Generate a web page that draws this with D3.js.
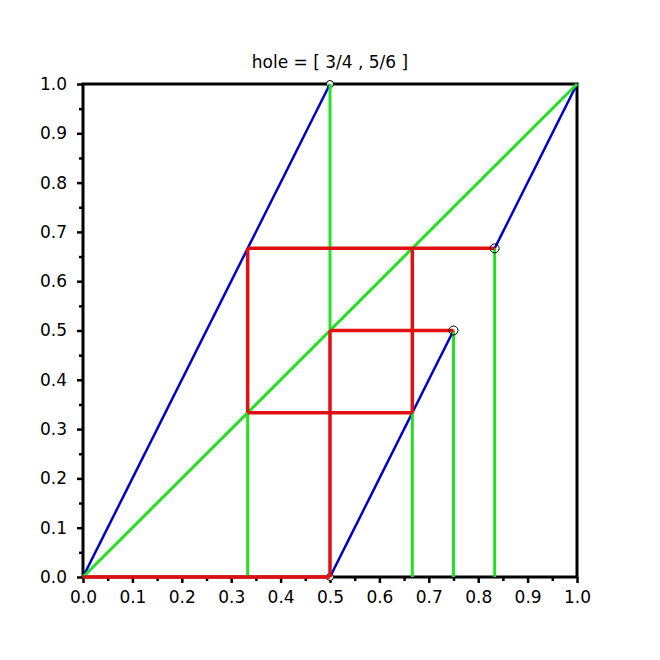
<!DOCTYPE html>
<html>
<head>
<meta charset="utf-8">
<script src="https://cdn.jsdelivr.net/npm/d3@7"></script>
<style>
  body { margin: 0; background: #fff; }
  text { font-family: "DejaVu Sans", sans-serif; }
</style>
</head>
<body>
<div class="container"></div>
<script>
let title = 'hole = [ 3/4 , 5/6 ]';

// the map (blue)
let mapSegments = [
  [[0, 0], [0.5, 1]],
  [[0.5, 0], [0.75, 0.5]],
  [[5 / 6, 2 / 3], [1, 1]],
];

// diagonal and vertical drops (green)
let greenSegments = [
  [[0, 0], [1, 1]],
  [[0.5, 0.5], [0.5, 1]],
  [[1 / 3, 0], [1 / 3, 1 / 3]],
  [[2 / 3, 0], [2 / 3, 1 / 3]],
  [[0.75, 0], [0.75, 0.5]],
  [[5 / 6, 0], [5 / 6, 2 / 3]],
];

// cobweb orbits (red)
let redSegments = [
  [[0, 0], [0.5, 0]],
  [[0.5, 0], [0.5, 0.5]],
  [[0.5, 0.5], [0.75, 0.5]],
  [[1 / 3, 2 / 3], [5 / 6, 2 / 3]],
  [[1 / 3, 1 / 3], [2 / 3, 1 / 3]],
  [[1 / 3, 1 / 3], [1 / 3, 2 / 3]],
  [[2 / 3, 1 / 3], [2 / 3, 2 / 3]],
];

// open end points
let bigCircles = [[0.75, 0.5], [5 / 6, 2 / 3]];
let smallCircles = [[0.5, 0], [0.5, 1]];

let tickValues = [0, 0.1, 0.2, 0.3, 0.4, 0.5, 0.6, 0.7, 0.8, 0.9, 1.0];
let minorTicks = [0.05, 0.15, 0.25, 0.35, 0.45, 0.55, 0.65, 0.75, 0.85, 0.95];

let margin = { top: 84, right: 83, bottom: 83, left: 83 };
let width = 660 - margin.left - margin.right;
let height = 660 - margin.top - margin.bottom;

let svg = d3
  .select('.container')
  .append('svg')
  .attr('width', 660)
  .attr('height', 660)
  .append('g')
  .attr('transform', 'translate(' + margin.left + ',' + margin.top + ')');

let x = d3.scaleLinear().domain([0, 1]).range([0, width]);
let y = d3.scaleLinear().domain([0, 1]).range([height, 0]);

svg
  .append('text')
  .attr('x', width / 2)
  .attr('y', -16)
  .attr('text-anchor', 'middle')
  .style('font-size', '17px')
  .text(title);

// minor ticks
svg
  .append('g')
  .attr('transform', 'translate(0,' + height + ')')
  .call(d3.axisBottom(x).tickValues(minorTicks).tickSize(4).tickFormat(''))
  .call((g) => g.select('.domain').remove())
  .selectAll('line')
  .attr('stroke-width', 2.5);

svg
  .append('g')
  .call(d3.axisLeft(y).tickValues(minorTicks).tickSize(4).tickFormat(''))
  .call((g) => g.select('.domain').remove())
  .selectAll('line')
  .attr('stroke-width', 2.5);

// major ticks
let xAxis = svg
  .append('g')
  .attr('transform', 'translate(0,' + height + ')')
  .call(d3.axisBottom(x).tickValues(tickValues).tickSize(6).tickPadding(8).tickFormat(d3.format('.1f')));
xAxis.select('.domain').remove();
xAxis.selectAll('line').attr('stroke-width', 2.5);
xAxis.selectAll('text').style('font-size', '17px').attr('fill', '#000');

let yAxis = svg
  .append('g')
  .call(d3.axisLeft(y).tickValues(tickValues).tickSize(6).tickPadding(10).tickFormat(d3.format('.1f')));
yAxis.select('.domain').remove();
yAxis.selectAll('line').attr('stroke-width', 2.5);
yAxis.selectAll('text').style('font-size', '17px').attr('fill', '#000');

// frame
svg
  .append('rect')
  .attr('x', 0)
  .attr('y', 0)
  .attr('width', width)
  .attr('height', height)
  .attr('fill', 'none')
  .attr('stroke', 'black')
  .attr('stroke-width', 3);

let line = d3
  .line()
  .x((d) => x(d[0]))
  .y((d) => y(d[1]));

function drawSegments(list, color, w) {
  svg
    .append('g')
    .selectAll('path')
    .data(list)
    .enter()
    .append('path')
    .attr('d', line)
    .attr('fill', 'none')
    .attr('stroke', color)
    .attr('stroke-width', w);
}

svg
  .append('g')
  .selectAll('circle')
  .data(smallCircles)
  .enter()
  .append('circle')
  .attr('cx', (d) => x(d[0]))
  .attr('cy', (d) => y(d[1]))
  .attr('r', 3.5)
  .attr('fill', 'white')
  .attr('stroke', 'black')
  .attr('stroke-width', 1);

drawSegments(mapSegments, '#0000cc', 2.5);
drawSegments(greenSegments, '#22e022', 3);
drawSegments(redSegments, '#e01010', 3.5);

svg
  .append('g')
  .selectAll('circle')
  .data(bigCircles)
  .enter()
  .append('circle')
  .attr('cx', (d) => x(d[0]))
  .attr('cy', (d) => y(d[1]))
  .attr('r', 4.5)
  .attr('fill', 'none')
  .attr('stroke', 'black')
  .attr('stroke-width', 1);
</script>
</body>
</html>
